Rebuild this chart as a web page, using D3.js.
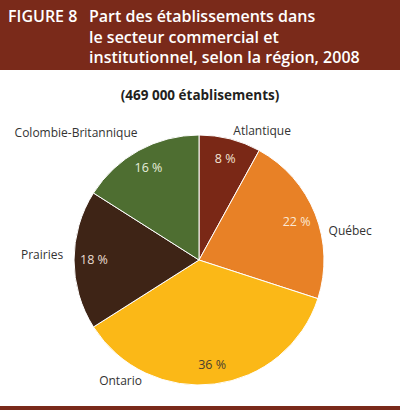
<!DOCTYPE html>
<html>
<head>
<meta charset="utf-8">
<script src="https://cdn.jsdelivr.net/npm/d3@7/dist/d3.min.js"></script>
<style>
  html, body { margin: 0; padding: 0; background: #fff; }
  svg { display: block; }
</style>
</head>
<body>
<svg id="chart" width="400" height="411"></svg>
<script>
// ---- Data ----
const regions = ["Atlantique", "Québec", "Ontario", "Prairies", "Colombie-Britannique"];
const shares = [8, 22, 36, 18, 16];
const percentLabels = ["8 %", "22 %", "36 %", "18 %", "16 %"];
const titleLines = ["Part des établissements dans", "le secteur commercial et", "institutionnel, selon la région, 2008"];
const figureLabel = "FIGURE 8";
const subtitle = "(469 000 établisements)";

// ---- Styles ----
const colors = ["#7a2816", "#e88126", "#fbb817", "#3e2416", "#4e6e31"];
const pctColors = ["#f3e3d3", "#fbe8d4", "#4a4030", "#eadcd0", "#e6eedc"];
const font = "'Open Sans', 'Noto Sans', sans-serif";
const brand = "#7a2a1a";
// outer label placement: polar (degrees clockwise from north, radius)
const outerPlacement = {
  "Atlantique": [26, 144],
  "Québec": [79, 154],
  "Ontario": [213, 144],
  "Prairies": [272, 157],
  "Colombie-Britannique": [316, 177]
};

const svg = d3.select("#chart");
const W = 400;

// header band
svg.append("rect").attr("x", 0).attr("y", 0).attr("width", W).attr("height", 70).attr("fill", brand);
svg.append("text").attr("x", 8).attr("y", 22)
  .attr("font-family", font).attr("font-weight", 600).attr("font-size", 16)
  .attr("fill", "#fff").text(figureLabel);
titleLines.forEach((t, i) => {
  svg.append("text").attr("x", 89).attr("y", 22 + i * 20.5)
    .attr("font-family", font).attr("font-weight", 600).attr("font-size", 16)
    .attr("fill", "#fff").text(t);
});

// bottom rule
svg.append("rect").attr("x", 0).attr("y", 406).attr("width", W).attr("height", 4).attr("fill", brand);

// subtitle
svg.append("text").attr("x", 200).attr("y", 100).attr("text-anchor", "middle")
  .attr("font-family", font).attr("font-weight", 700).attr("font-size", 13.5)
  .attr("fill", "#231f20").text(subtitle);

// pie
const cx = 199, cy = 260, R = 125;
const g = svg.append("g").attr("transform", `translate(${cx},${cy})`);
const data = regions.map((r, i) => ({ region: r, value: shares[i], pct: percentLabels[i], i }));
const pie = d3.pie().value(d => d.value).sort(null);
const arcs = pie(data);
const arc = d3.arc().innerRadius(0).outerRadius(R);
const labelArc = d3.arc().innerRadius(105).outerRadius(105);

g.selectAll("path.slice").data(arcs).join("path")
  .attr("class", "slice")
  .attr("d", arc)
  .attr("fill", d => colors[d.data.i])
  .attr("stroke", "#fff").attr("stroke-width", 1);

g.selectAll("text.pct").data(arcs).join("text")
  .attr("class", "pct")
  .attr("transform", d => { const c = labelArc.centroid(d); return `translate(${c[0]},${c[1]})`; })
  .attr("text-anchor", "middle").attr("dy", "0.35em")
  .attr("font-family", font).attr("font-size", 12.5)
  .attr("fill", d => pctColors[d.data.i])
  .text(d => d.data.pct);

g.selectAll("text.outer").data(arcs).join("text")
  .attr("class", "outer")
  .attr("transform", d => {
    const [deg, r] = outerPlacement[d.data.region];
    const a = deg * Math.PI / 180;
    return `translate(${r * Math.sin(a)},${-r * Math.cos(a)})`;
  })
  .attr("text-anchor", "middle").attr("dy", "0.35em")
  .attr("font-family", font).attr("font-size", 12)
  .attr("fill", "#333")
  .text(d => d.data.region);
</script>
</body>
</html>
